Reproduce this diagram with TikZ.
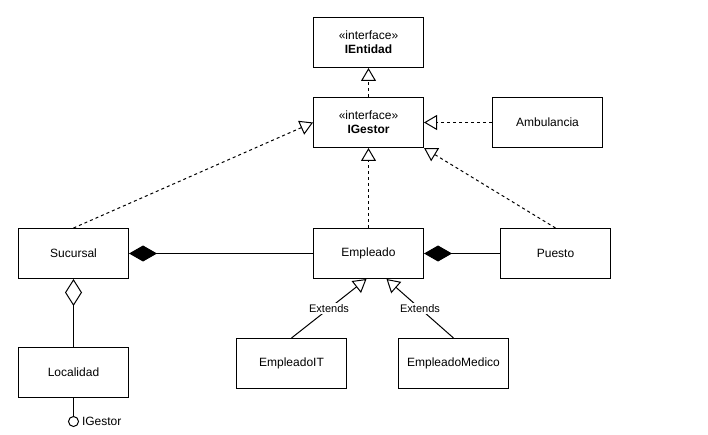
\documentclass[tikz,border=0pt]{standalone}
\usepackage{fontspec}
\setmainfont{Liberation Sans}
\usetikzlibrary{arrows.meta}

\begin{document}
\begin{tikzpicture}[x=1pt,y=-1pt,line width=1pt,
  font=\fontsize{12pt}{14pt}\selectfont]
  \useasboundingbox (0,0) rectangle (708,435);
  \tikzstyle{ClassStyle}=[draw,minimum width=110pt,minimum height=50pt,
    inner sep=0pt,align=center]
  \tikzstyle{RealizeStyle}=[-{Triangle[open,length=13pt,width=15pt]},
    dash pattern=on 3pt off 3pt]
  \tikzstyle{ExtendStyle}=[-{Triangle[open,length=13pt,width=15pt]}]
  \tikzstyle{LabelStyle}=[fill=white,inner sep=1pt,
    font=\fontsize{11pt}{13pt}\selectfont]
  \begin{scope}[shift={(0.5,0.5)}]
  % classes
  \node[ClassStyle] (ientidad) at (368,42) {«interface»\\\textbf{IEntidad}};
  \node[ClassStyle] (igestor) at (368,122) {«interface»\\\textbf{IGestor}};
  \node[ClassStyle] (ambulancia) at (547,122) {Ambulancia};
  \node[ClassStyle] (sucursal) at (73,253) {Sucursal};
  \node[ClassStyle] (empleado) at (368,253) {Empleado};
  \node[ClassStyle] (puesto) at (555,253) {Puesto};
  \node[ClassStyle] (localidad) at (73,372) {Localidad};
  \node[ClassStyle] (empleadoit) at (291,363) {EmpleadoIT};
  \node[ClassStyle] (empleadomedico) at (453,363) {EmpleadoMedico};
  \coordinate (empleadoL) at ([xshift=-2pt]empleado.south);
  \coordinate (empleadoR) at ([xshift=18pt]empleado.south);
  % interfaces
  \draw[RealizeStyle] (igestor.north) -- (ientidad.south);
  \draw[RealizeStyle] (ambulancia.west) -- (igestor.east);
  \draw[RealizeStyle] (sucursal.north) -- (igestor.west);
  \draw[RealizeStyle] (empleado.north) -- (igestor.south);
  \draw[RealizeStyle] (puesto.north) -- (igestor.south east);
  % associations
  \draw[{Diamond[length=28pt,width=16pt]}-] (sucursal.east) -- (empleado.west);
  \draw[{Diamond[length=28pt,width=16pt]}-] (empleado.east) -- (puesto.west);
  \draw[{Diamond[open,length=27pt,width=17pt]}-] (sucursal.south) -- (localidad.north);
  \draw[ExtendStyle] (empleadoit.north) -- node[LabelStyle] {Extends} (empleadoL);
  \draw[ExtendStyle] (empleadomedico.north) -- node[LabelStyle] {Extends} (empleadoR);
  % lollipop
  \node[draw,circle,minimum size=10pt,inner sep=0pt] (lollipop) at (73,421) {};
  \node[anchor=west,inner sep=0pt] (lollipoplabel) at (81,421) {IGestor};
  \draw (localidad.south) -- (lollipop.north);
  \end{scope}
\end{tikzpicture}
\end{document}
